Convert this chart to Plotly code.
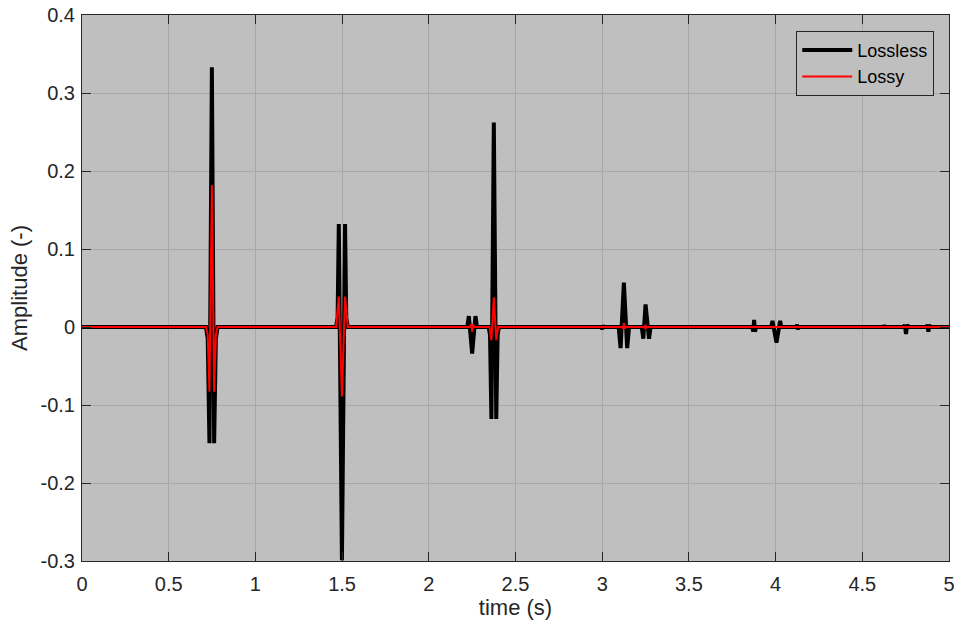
import plotly.graph_objects as go

# ---- data ----
t_lossless = [0.0,
              0.715, 0.725, 0.735, 0.749, 0.762, 0.772, 0.782,
              1.465, 1.474, 1.481, 1.499, 1.517, 1.524, 1.533,
              2.222, 2.231, 2.250, 2.269, 2.278,
              2.345, 2.353, 2.361, 2.375, 2.389, 2.397, 2.405,
              2.995, 3.000, 3.005, 3.010,
              3.095, 3.106, 3.125, 3.144, 3.155,
              3.228, 3.237, 3.250, 3.270, 3.279,
              3.865, 3.871, 3.876, 3.881, 3.888,
              3.975, 3.982, 4.005, 4.026, 4.033,
              4.120, 4.124, 4.128, 4.132,
              4.622, 4.627, 4.632,
              4.740, 4.745, 4.752, 4.759, 4.765,
              4.872, 4.876, 4.881, 4.886, 4.890,
              5.0]
a_lossless = [0.0,
              0.0, -0.015, -0.149, 0.333, -0.149, -0.015, 0.0,
              0.0, 0.012, 0.132, -0.299, 0.132, 0.012, 0.0,
              0.0, 0.014, -0.034, 0.014, 0.0,
              0.0, -0.01, -0.118, 0.262, -0.118, -0.01, 0.0,
              0.0, -0.003, 0.002, 0.0,
              0.0, -0.027, 0.057, -0.027, 0.0,
              0.0, -0.015, 0.029, -0.015, 0.0,
              0.0, -0.006, 0.009, -0.006, 0.0,
              0.0, 0.008, -0.020, 0.008, 0.0,
              0.0, 0.003, -0.003, 0.0,
              0.0, 0.002, 0.0,
              0.0, 0.003, -0.009, 0.003, 0.0,
              0.0, 0.003, -0.006, 0.003, 0.0,
              0.0]

t_lossy = [0.0,
           0.715, 0.725, 0.735, 0.749, 0.762, 0.772, 0.782,
           1.465, 1.481, 1.499, 1.517, 1.533,
           2.235, 2.245, 2.250, 2.255, 2.265,
           2.350, 2.361, 2.375, 2.389, 2.400,
           3.115, 3.120, 3.125, 3.130, 3.135,
           3.240, 3.245, 3.250, 3.255, 3.260,
           5.0]
a_lossy = [0.0,
           0.0, -0.01, -0.083, 0.182, -0.083, -0.01, 0.0,
           0.0, 0.039, -0.089, 0.039, 0.0,
           0.0, 0.003, -0.006, 0.003, 0.0,
           0.0, -0.017, 0.038, -0.017, 0.0,
           0.0, -0.002, 0.005, -0.002, 0.0,
           0.0, -0.001, 0.003, -0.001, 0.0,
           0.0]

x_ticks = [0, 0.5, 1, 1.5, 2, 2.5, 3, 3.5, 4, 4.5, 5]
x_labels = ["0", "0.5", "1", "1.5", "2", "2.5", "3", "3.5", "4", "4.5", "5"]
y_ticks = [-0.3, -0.2, -0.1, 0, 0.1, 0.2, 0.3, 0.4]
y_labels = ["-0.3", "-0.2", "-0.1", "0", "0.1", "0.2", "0.3", "0.4"]

FONT = "Liberation Sans, Arial, sans-serif"
AX = "#262626"

fig = go.Figure()
fig.add_trace(go.Scatter(x=t_lossless, y=a_lossless, mode="lines", name="Lossless",
                         line=dict(color="black", width=4)))
fig.add_trace(go.Scatter(x=t_lossy, y=a_lossy, mode="lines", name="Lossy",
                         line=dict(color="red", width=2)))

axis_common = dict(showline=True, linecolor=AX, linewidth=1, mirror="ticks",
                   ticks="inside", ticklen=9, tickcolor=AX, tickwidth=1,
                   showgrid=True, gridcolor="#a8a8a8", gridwidth=1,
                   zeroline=False, automargin=False,
                   tickfont=dict(family=FONT, size=20, color=AX),
                   title_font=dict(family=FONT, size=22, color=AX))

fig.update_xaxes(range=[0, 5], tickvals=x_ticks, ticktext=x_labels,
                 ticklabelstandoff=5,
                 title_text="time (s)", title_standoff=4, **axis_common)
fig.update_yaxes(range=[-0.3, 0.4], tickvals=y_ticks, ticktext=y_labels,
                 ticklabelstandoff=2,
                 title_text="Amplitude (-)", title_standoff=6, **axis_common)

fig.update_layout(
    width=955, height=627,
    margin=dict(l=82, r=6, t=15, b=66),
    paper_bgcolor="white", plot_bgcolor="#bfbfbf",
    showlegend=True,
    legend=dict(x=0.983, y=0.971, xanchor="right", yanchor="top",
                bgcolor="#bfbfbf", bordercolor=AX, borderwidth=1,
                font=dict(family=FONT, size=18, color="black"),
                itemwidth=50, tracegroupgap=0),
)

fig.write_html("out.html")
